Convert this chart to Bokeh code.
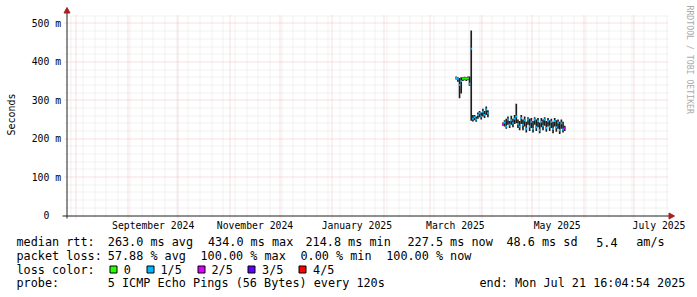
import math
import pandas as pd
from bokeh.plotting import figure
from bokeh.models import Range1d, ColumnDataSource
from bokeh.core.properties import value
from bokeh.embed import file_html
from bokeh.resources import INLINE

# ------------------------------------------------------------------ data
END_TIME = "2025-07-21 16:04:54"
SPAN_DAYS = 360

# first block of measurements (daily values, ms)
C1_FIRST_DAY = "2025-03-16"
c1_median = [358, 356, 340, 350, 356, 357, 356, 357, 343, 434,
             252, 256, 250, 262, 266, 258, 270, 262, 276, 266]
c1_low = [354, 348, 305, 318, 350, 352, 350, 352, 338, 247,
          245, 248, 244, 252, 256, 250, 258, 254, 262, 256]
c1_high = [362, 360, 358, 360, 360, 361, 360, 362, 362, 482,
           262, 262, 258, 268, 272, 268, 278, 272, 284, 274]
c1_loss = [1, 1, 1, 1, 0, 0, 0, 0, 1, 1,
           1, 1, 1, 1, 1, 1, 1, 1, 1, 1]

# second block of measurements (daily values, ms)
C2_FIRST_DAY = "2025-04-13"
c2_median = [238, 242, 232, 250, 236, 248, 240, 252, 258, 238,
             232, 254, 236, 248, 226, 250, 232, 244, 226, 250,
             230, 246, 222, 244, 234, 250, 228, 246, 232, 244,
             226, 246, 230, 242, 222, 240, 224, 227.5]
c2_low = [234, 232, 226, 236, 228, 236, 230, 238, 240, 228,
          222, 238, 222, 232, 216, 236, 220, 228, 216, 236,
          220, 230, 214, 230, 222, 234, 218, 232, 220, 228,
          214, 232, 218, 226, 212, 226, 216, 220]
c2_high = [242, 248, 252, 258, 246, 260, 252, 262, 291, 250,
           246, 262, 250, 258, 244, 256, 252, 254, 246, 256,
           250, 254, 242, 254, 250, 256, 246, 254, 248, 252,
           244, 254, 248, 250, 244, 250, 244, 234]
c2_loss = [2, 1, 1, 1, 1, 1, 1, 1, 1, 1,
           1, 1, 1, 1, 1, 1, 1, 1, 1, 1,
           1, 1, 1, 1, 1, 1, 1, 1, 1, 1,
           1, 1, 1, 1, 1, 1, 1, 2]

LOSS_LABELS = ["0", "1/5", "2/5", "3/5", "4/5"]
LOSS_COLORS = ["#26ff00", "#00b8ff", "#dd00ff", "#5e00ff", "#ff0000"]

Y_TICKS = [0, 100, 200, 300, 400, 500]
Y_TICK_LABELS = ["0\u00a0\u00a0", "100 m", "200 m", "300 m", "400 m", "500 m"]
Y_TITLE = "Seconds"
Y_MAX = 520.8
X_LABEL_MONTHS = ["2024-09-01", "2024-11-01", "2025-01-01",
                  "2025-03-01", "2025-05-01", "2025-07-01"]

LEGEND_ROW1 = ["median rtt:", "263.0 ms avg", "434.0 ms max", "214.8 ms min",
               "227.5 ms now", "48.6 ms sd", "5.4", "am/s"]
LEGEND_ROW2 = ["packet loss:", "57.88 % avg", "100.00 % max", "0.00 % min",
               "100.00 % now"]
LEGEND_ROW3 = "loss color:"
LEGEND_ROW4 = ["probe:", "5 ICMP Echo Pings (56 Bytes) every 120s",
               "end: Mon Jul 21 16:04:54 2025"]
WATERMARK = "RRDTOOL / TOBI OETIKER"

# ------------------------------------------------------------------ layout
W, H = 697, 297
FL, FR, FT, FB = 67, 668, 15, 215     # plotting area of the graph (canvas px)
MONO = "DejaVu Sans Mono"
BLACK = "#202020"
ARROW_RED = "#a82020"
MAJOR_GRID = "#f4bebe"
MINOR_GRID = "#e2e2e2"

end_t = pd.Timestamp(END_TIME)
start_t = end_t - pd.Timedelta(days=SPAN_DAYS)
start_ms = start_t.value / 1e6
end_ms = end_t.value / 1e6
MS_PER_PX = (end_ms - start_ms) / (FR - FL)


def X(cx):          # canvas x -> time (ms)
    return start_ms + (cx - FL) * MS_PER_PX


def Y(cy):          # canvas y -> value (ms rtt)
    return (FB - cy) * Y_MAX / (FB - FT)


def snap_x(t):      # put a 1px grid line on a pixel centre
    return X(math.floor(FL + (t - start_ms) / MS_PER_PX) + 0.5)


def snap_y(v):
    return Y(math.floor(FB - v * (FB - FT) / Y_MAX) + 0.5)


p = figure(width=W, height=H, output_backend="svg", toolbar_location=None,
           title=None, x_axis_location=None, y_axis_location=None,
           x_range=Range1d(X(0), X(W)), y_range=Range1d(Y(H), Y(0)),
           min_border_left=0, min_border_right=0,
           min_border_top=0, min_border_bottom=0,
           background_fill_color="white", border_fill_color="white",
           outline_line_color=None)
p.xgrid.visible = False
p.ygrid.visible = False

# grid lines -------------------------------------------------------------
month_starts = pd.date_range("2024-08-01", "2025-07-01", freq="MS")
weeks = [w for w in pd.date_range(start_t.normalize(), end_t, freq="W-MON")
         if w not in set(month_starts) and w > start_t]
ms = lambda ts: ts.value / 1e6

minor_y = [snap_y(v) for v in range(20, 540, 20) if v % 100 and v <= Y_MAX]
major_y = [snap_y(v) for v in Y_TICKS[1:]]
week_x = [snap_x(ms(w)) for w in weeks]
month_x = [snap_x(ms(m)) for m in month_starts]
p.segment(x0=week_x, x1=week_x, y0=Y(217), y1=Y(FT), line_color=MINOR_GRID,
          line_dash="1 1", line_width=1)
p.segment(x0=X(65), x1=X(FR), y0=minor_y, y1=minor_y,
          line_color=MINOR_GRID, line_dash="1 1", line_width=1)
p.segment(x0=month_x, x1=month_x, y0=Y(218), y1=Y(FT), line_color=MAJOR_GRID,
          line_dash="1 1", line_width=1)
p.segment(x0=X(64), x1=X(FR), y0=major_y, y1=major_y,
          line_color=MAJOR_GRID, line_dash="1 1", line_width=1)

# data glyphs --------------------------------------------------------------
def block(first_day, med, lo, hi, loss):
    days = pd.date_range(first_day, periods=len(med), freq="D")
    return pd.DataFrame({"t0": days, "t1": days + pd.Timedelta(days=1),
                         "med": med, "lo": lo, "hi": hi,
                         "color": [LOSS_COLORS[k] for k in loss]})


df = pd.concat([block(C1_FIRST_DAY, c1_median, c1_low, c1_high, c1_loss),
                block(C2_FIRST_DAY, c2_median, c2_low, c2_high, c2_loss)],
               ignore_index=True)
src = ColumnDataSource(df)
# smoke (spread of the pings)
p.quad(left="t0", right="t1", bottom="lo", top="hi", source=src,
       fill_color="#1e1e1e", line_color=None)
# median, coloured by packet loss
p.segment(x0="t0", y0="med", x1="t1", y1="med", line_color="color",
          line_width=2, source=src)

# axis lines and arrow heads -------------------------------------------------
p.segment(x0=X(62), x1=X(669), y0=Y(215.5), y1=Y(215.5), line_color=BLACK,
          line_width=1)
p.segment(x0=X(66.5), x1=X(66.5), y0=Y(218), y1=Y(11), line_color=BLACK,
          line_width=1)
p.patch(x=[X(63.5), X(69.5), X(66.5)], y=[Y(12.5), Y(12.5), Y(7)],
        fill_color=ARROW_RED, line_color=ARROW_RED, line_width=1)
p.patch(x=[X(668.5), X(668.5), X(674)], y=[Y(212.5), Y(218.5), Y(215.5)],
        fill_color=ARROW_RED, line_color=ARROW_RED, line_width=1)

# tick labels and axis title ------------------------------------------------
label_ticks = [ms(pd.Timestamp(m) + pd.Timedelta(days=15)) for m in X_LABEL_MONTHS]
label_text = [pd.Timestamp(m).strftime("%B %Y") for m in X_LABEL_MONTHS]
p.text(x=label_ticks, y=Y(225), text=label_text, text_font=value(MONO),
       text_font_size=value("9.75px"), text_color="black",
       text_align="center", text_baseline="middle")
p.text(x=X(60.5), y=Y_TICKS, text=Y_TICK_LABELS, text_font=value(MONO),
       text_font_size=value("9.75px"), text_color="black",
       text_align="right", text_baseline="middle")
p.text(x=[X(11)], y=[Y(114)], text=[Y_TITLE], angle=math.pi / 2,
       text_font=value(MONO), text_font_size=value("10px"),
       text_color="black", text_align="center", text_baseline="middle")

# watermark
p.text(x=[X(689)], y=[Y(5)], text=[WATERMARK], angle=-math.pi / 2,
       text_font=value(MONO), text_font_size=value("8.2px"),
       text_color="#aaaaaa", text_align="left", text_baseline="middle")

# ------------------------------------------------------------------ legend
ROW_Y = [241.7, 255.2, 269.0, 282.8]
row1_x = [16, 107.3, 207.5, 305, 407, 506, 595.7, 635.7]
row2_x = [16, 107.3, 200, 300, 385.7]
row4_x = [16, 107.3, 479]
sq_x = [109, 145.7, 196.7, 247.3, 298.3]

lt, lx, ly = [], [], []
for texts, xs, yy in ((LEGEND_ROW1, row1_x, ROW_Y[0]),
                      (LEGEND_ROW2, row2_x, ROW_Y[1]),
                      ([LEGEND_ROW3] + LOSS_LABELS,
                       [16] + [x + 14.3 for x in sq_x], ROW_Y[2]),
                      (LEGEND_ROW4, row4_x, ROW_Y[3])):
    lt += texts
    lx += [X(x) for x in xs]
    ly += [Y(yy)] * len(texts)
p.text(x=lx, y=ly, text=lt, text_font=value(MONO),
       text_font_size=value("11.8px"), text_color="black",
       text_align="left", text_baseline="middle")
p.quad(left=[X(round(x) + 0.5) for x in sq_x],
       right=[X(round(x) + 7.5) for x in sq_x],
       top=Y(265.5), bottom=Y(272.5),
       fill_color=LOSS_COLORS, line_color="black", line_width=1)

open("out.html", "w").write(file_html(p, INLINE))
